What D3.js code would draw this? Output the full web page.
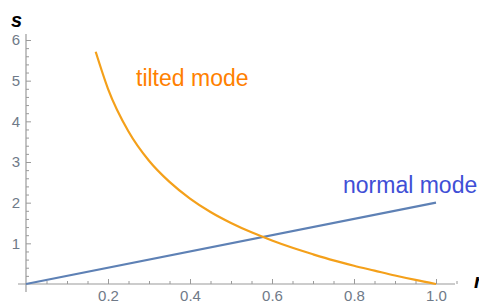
<!DOCTYPE html>
<html>
<head>
<meta charset="utf-8">
<script src="https://d3js.org/d3.v7.min.js"></script>
<style>
body { margin: 0; background: #fff; }
text { font-family: "Liberation Sans", Arial, sans-serif; }
</style>
</head>
<body>
<script>
// values
var tiltedR = [0.17, 0.2, 0.25, 0.3, 0.35, 0.4, 0.45, 0.5, 0.55, 0.6, 0.65, 0.7, 0.75, 0.8, 0.85, 0.9, 0.95, 1.0];
var tiltedS = [5.71, 4.8, 3.75, 3.03, 2.51, 2.1, 1.77, 1.5, 1.27, 1.07, 0.89, 0.73, 0.58, 0.45, 0.33, 0.21, 0.10, 0];
var normalR = [0, 1.0];
var normalS = [0, 2.0];
var xTicks = [0.2, 0.4, 0.6, 0.8, 1.0];
var yTicks = [1, 2, 3, 4, 5, 6];

var width = 479, height = 303;

var svg = d3.select("body").append("svg")
  .attr("width", width)
  .attr("height", height);

var x = d3.scaleLinear().domain([0, 1]).range([26, 436]);
var y = d3.scaleLinear().domain([0, 6]).range([284, 40]);

var axisColor = "#9a9a9a";

// minor ticks
var xMinor = d3.range(1, 24).map(function(i){ return i * 0.05; }).filter(function(v){ return Math.abs(v*5 - Math.round(v*5)) > 1e-6; });
var yMinor = d3.range(1, 31).map(function(i){ return i * 0.2; }).filter(function(v){ return Math.abs(v - Math.round(v)) > 1e-6; });

var gx = svg.append("g").attr("transform", "translate(0," + y(0) + ")");
gx.append("g").call(d3.axisBottom(x).tickValues(xMinor).tickSize(-3).tickFormat(""));
gx.append("g").call(d3.axisBottom(x).tickValues(xTicks).tickSize(-5).tickPadding(6)
  .tickFormat(d3.format(".1f")));
gx.selectAll(".domain").remove();
gx.append("line").attr("x1", 18).attr("x2", 455).attr("stroke", axisColor).attr("stroke-width", 1.2);

var gy = svg.append("g").attr("transform", "translate(" + x(0) + ",0)");
gy.append("g").call(d3.axisLeft(y).tickValues(yMinor).tickSize(-3).tickFormat(""));
gy.append("g").call(d3.axisLeft(y).tickValues(yTicks).tickSize(-5).tickPadding(6)
  .tickFormat(d3.format("d")));
gy.selectAll(".domain").remove();
gy.append("line").attr("y1", 34).attr("y2", 292).attr("stroke", axisColor).attr("stroke-width", 1.2);

svg.selectAll(".tick line").attr("stroke", axisColor);
svg.selectAll(".tick text").attr("fill", "#6f7a88").attr("font-size", "15px")
  .style("font-family", "'Liberation Sans', Arial, sans-serif");
gy.selectAll(".tick text").attr("x", -6);

// curves
var line = d3.line()
  .x(function(d){ return x(d[0]); })
  .y(function(d){ return y(d[1]); })
  .curve(d3.curveMonotoneX);

svg.append("path")
  .datum(normalR.map(function(r, i){ return [r, normalS[i]]; }))
  .attr("d", line)
  .attr("fill", "none")
  .attr("stroke", "#5e81b5")
  .attr("stroke-width", 2.2);

svg.append("path")
  .datum(tiltedR.map(function(r, i){ return [r, tiltedS[i]]; }))
  .attr("d", line)
  .attr("fill", "none")
  .attr("stroke", "#f4a01a")
  .attr("stroke-width", 2.2);

// labels
svg.append("text").attr("x", 136).attr("y", 86)
  .text("tilted mode")
  .attr("font-size", "23px")
  .attr("fill", "#ff8000");

svg.append("text").attr("x", 343).attr("y", 193)
  .text("normal mode")
  .attr("font-size", "23px")
  .attr("fill", "#3f4fd6");

// axis titles
svg.append("text").attr("x", 11).attr("y", 27)
  .text("s")
  .attr("font-size", "20px")
  .attr("font-weight", "bold")
  .attr("font-style", "italic")
  .attr("fill", "#000");

svg.append("text").attr("x", 474).attr("y", 288)
  .text("r")
  .attr("font-size", "20px")
  .attr("font-weight", "bold")
  .attr("font-style", "italic")
  .attr("fill", "#000");
</script>
</body>
</html>
